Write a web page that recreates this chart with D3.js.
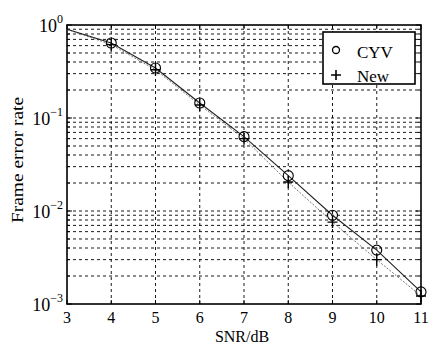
<!DOCTYPE html>
<html>
<head>
<meta charset="utf-8">
<script src="https://cdn.jsdelivr.net/npm/d3@7"></script>
<style>
  body { margin: 0; background: #fff; }
  svg { display: block; font-family: "Liberation Serif", "DejaVu Serif", serif; }
</style>
</head>
<body>
<div id="app"></div>
<script>
let width = 429;
let height = 347;
let margin = {top: 25, right: 8, bottom: 43, left: 67};

// data
let snr = [3, 4, 5, 6, 7, 8, 9, 10, 11];
let cyv = [0.9, 0.64, 0.345, 0.145, 0.063, 0.024, 0.009, 0.0038, 0.00135];
let newFer = [0.9, 0.615, 0.33, 0.138, 0.06, 0.0205, 0.0076, 0.003, 0.00122];
let xTicks = [3, 4, 5, 6, 7, 8, 9, 10, 11];
let yDecades = [1e-3, 1e-2, 1e-1, 1];
let yExps = ["-3", "-2", "-1", "0"];

let svg = d3.select("#app")
  .append("svg")
  .attr("width", width)
  .attr("height", height);

const x = d3.scaleLinear().domain([3, 11]).range([margin.left, width - margin.right]);
const y = d3.scaleLog().domain([1e-3, 1]).range([height - margin.bottom, margin.top]);

let x0 = margin.left, x1 = width - margin.right;
let y0 = height - margin.bottom, y1 = margin.top;

// minor log values
let minors = [];
[1e-3, 1e-2, 1e-1].forEach(d => {
  for (let k = 2; k <= 9; k++) minors.push(d * k);
});

let grid = svg.append("g")
  .attr("stroke", "#000")
  .attr("stroke-width", 0.9)
  .attr("stroke-dasharray", "3,3");

grid.selectAll(".hy")
  .data(minors.concat([1e-2, 1e-1]))
  .join("line")
  .attr("x1", x0).attr("x2", x1)
  .attr("y1", d => y(d)).attr("y2", d => y(d));

grid.selectAll(".vx")
  .data(xTicks.slice(1, -1))
  .join("line")
  .attr("x1", d => x(d)).attr("x2", d => x(d))
  .attr("y1", y0).attr("y2", y1);

// tick marks inside the box
let ticks = svg.append("g").attr("stroke", "#000").attr("stroke-width", 1);
xTicks.forEach(d => {
  ticks.append("line").attr("x1", x(d)).attr("x2", x(d)).attr("y1", y0).attr("y2", y0 - 4);
  ticks.append("line").attr("x1", x(d)).attr("x2", x(d)).attr("y1", y1).attr("y2", y1 + 4);
});
yDecades.forEach(d => {
  ticks.append("line").attr("x1", x0).attr("x2", x0 + 5).attr("y1", y(d)).attr("y2", y(d));
  ticks.append("line").attr("x1", x1).attr("x2", x1 - 5).attr("y1", y(d)).attr("y2", y(d));
});
minors.forEach(d => {
  ticks.append("line").attr("x1", x0).attr("x2", x0 + 3).attr("y1", y(d)).attr("y2", y(d));
  ticks.append("line").attr("x1", x1).attr("x2", x1 - 3).attr("y1", y(d)).attr("y2", y(d));
});

// curves
let line = d3.line().x((d, i) => x(snr[i])).y(d => y(d));

svg.append("path")
  .attr("d", line(newFer))
  .attr("fill", "none")
  .attr("stroke", "#777")
  .attr("stroke-width", 1)
  .attr("stroke-dasharray", "2,1.5");

svg.append("path")
  .attr("d", line(cyv))
  .attr("fill", "none")
  .attr("stroke", "#222")
  .attr("stroke-width", 1.1);

// markers (none at SNR 3)
svg.append("g")
  .selectAll("circle")
  .data(cyv.slice(1))
  .join("circle")
  .attr("cx", (d, i) => x(snr[i + 1]))
  .attr("cy", d => y(d))
  .attr("r", 5)
  .attr("fill", "none")
  .attr("stroke", "#000")
  .attr("stroke-width", 1.1);

svg.append("g")
  .selectAll("path")
  .data(newFer.slice(1))
  .join("path")
  .attr("d", (d, i) => {
    let cx = x(snr[i + 1]), cy = y(d);
    return `M${cx - 5},${cy}H${cx + 5}M${cx},${cy - 6}V${cy + 6}`;
  })
  .attr("stroke", "#000")
  .attr("stroke-width", 1.4);

// box
svg.append("rect")
  .attr("x", x0).attr("y", y1)
  .attr("width", x1 - x0).attr("height", y0 - y1)
  .attr("fill", "none")
  .attr("stroke", "#000")
  .attr("stroke-width", 1.6);

// tick labels
svg.append("g")
  .selectAll("text")
  .data(xTicks)
  .join("text")
  .attr("x", d => x(d))
  .attr("y", y0 + 19)
  .attr("text-anchor", "middle")
  .attr("font-size", 16)
  .text(d => d);

let yl = svg.append("g")
  .selectAll("text")
  .data(yDecades)
  .join("text")
  .attr("x", x0 - 4)
  .attr("y", d => y(d) + 7)
  .attr("text-anchor", "end")
  .attr("font-size", 18);
yl.append("tspan").text("10");
yl.append("tspan")
  .attr("font-size", 12)
  .attr("dy", -9)
  .text((d, i) => yExps[i].replace("-", "\u2212"));

// axis titles
svg.append("text")
  .attr("x", 242)
  .attr("y", 342)
  .attr("text-anchor", "middle")
  .attr("font-size", 16)
  .text("SNR/dB");

svg.append("text")
  .attr("transform", `translate(23,160) rotate(-90)`)
  .attr("text-anchor", "middle")
  .attr("font-size", 16)
  .attr("textLength", 126)
  .attr("lengthAdjust", "spacingAndGlyphs")
  .text("Frame error rate");

// legend
let lg = svg.append("g");
lg.append("rect")
  .attr("x", 323).attr("y", 32)
  .attr("width", 92).attr("height", 52)
  .attr("fill", "#fff")
  .attr("stroke", "#000")
  .attr("stroke-width", 1.6);
lg.append("circle")
  .attr("cx", 336).attr("cy", 50).attr("r", 3.5)
  .attr("fill", "none").attr("stroke", "#000").attr("stroke-width", 1.3);
lg.append("path")
  .attr("d", "M331,75H341M336,70V80")
  .attr("stroke", "#000").attr("stroke-width", 1.6);
lg.append("text").attr("x", 357).attr("y", 58).attr("font-size", 17).text("CYV");
lg.append("text").attr("x", 357).attr("y", 82).attr("font-size", 17).text("New");
</script>
</body>
</html>
